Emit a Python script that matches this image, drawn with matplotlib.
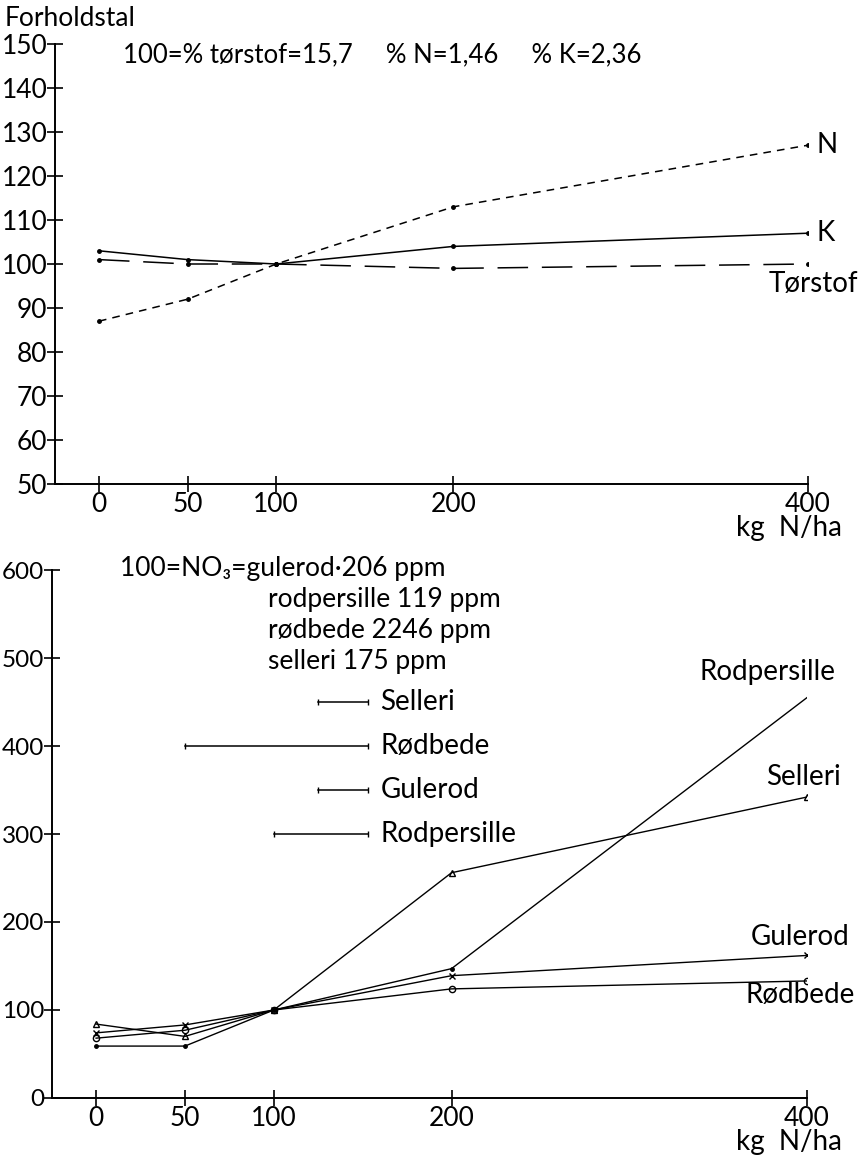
import numpy as np
import matplotlib.pyplot as plt

# fonts: humanist sans, fall back to DejaVu for odd glyphs (subscript 3)
plt.rcParams['font.family'] = ['Lato', 'DejaVu Sans']

################################################################
# DATA
################################################################

kg_n = [0, 50, 100, 200, 400]

# Top panel: ratio numbers (100 = mean level)
torstof = [101, 100, 100, 99, 100]
pct_k = [103, 101, 100, 104, 107]
pct_n = [87, 92, 100, 113, 127]

# Bottom panel: NO3 ratio numbers
selleri = [84, 70, 100, 256, 342]
rodbede = [68, 77, 100, 124, 133]
gulerod = [74, 83, 100, 139, 162]
rodpersille = [59, 59, 100, 147, 455]

top_yticks = list(range(50, 151, 10))
bot_yticks = [0, 100, 200, 300, 400, 500, 600]

W, H = 860, 1163
fs_tick = 19
fs_text = 19
fs_lab = 20

################################################################
# FIGURE
################################################################

fig = plt.figure(figsize=(W / 100, H / 100), dpi=100)


def style_axis(ax):
    for s in ['top', 'right']:
        ax.spines[s].set_visible(False)
    for s in ['left', 'bottom']:
        ax.spines[s].set_linewidth(1.4)
    ax.set_xticks(kg_n)
    ax.set_xticklabels([str(v) for v in kg_n])
    ax.tick_params(direction='inout', length=11, width=1.2, labelsize=fs_tick, pad=0)
    ax.set_xlim(-24.8, 400)


################ top panel ################
ax1 = fig.add_axes([55 / W, 1 - 484 / H, (808 - 55) / W, 440 / H])
style_axis(ax1)
ax1.set_ylim(50, 150)
ax1.set_yticks(top_yticks)

ax1.plot(kg_n, pct_n, color='black', lw=1.1, ls=(0, (5, 4)), marker='o', ms=2.5)
ax1.plot(kg_n, pct_k, color='black', lw=1.1, marker='o', ms=2.5)
ax1.plot(kg_n, torstof, color='black', lw=1.1, ls=(0, (20, 9)), marker='o', ms=2.5)

ax1.text(405, pct_n[-1], 'N', fontsize=fs_lab, va='center', ha='left')
ax1.text(405, pct_k[-1], 'K', fontsize=fs_lab, va='center', ha='left')
ax1.text(403, 95.5, 'Tørstof', fontsize=fs_lab, va='center', ha='center')

fig.text(5 / W, 1 - 18 / H, 'Forholdstal', fontsize=19, va='center', ha='left')
fig.text(123 / W, 1 - 55 / H, '100=% tørstof=15,7     % N=1,46     % K=2,36',
         fontsize=18.5, va='center', ha='left')
fig.text(789 / W, 1 - 528 / H, 'kg  N/ha', fontsize=fs_lab, va='center', ha='center')

################ bottom panel ################
ax2 = fig.add_axes([52 / W, 1 - 1098 / H, (807 - 52) / W, (1098 - 570) / H])
style_axis(ax2)
ax2.set_ylim(0, 600)
ax2.set_yticks(bot_yticks)
ax2.tick_params(axis='y', labelsize=17.5)

ax2.plot(kg_n, selleri, color='black', lw=1.0, marker='^', ms=5, mfc='none', mew=1.0)
ax2.plot(kg_n, rodbede, color='black', lw=1.0, marker='o', ms=4.5, mfc='none', mew=1.0)
ax2.plot(kg_n, gulerod, color='black', lw=1.0, marker='x', ms=4, mew=1.0)
ax2.plot(kg_n, rodpersille, color='black', lw=1.0, marker='o', ms=2.5, markevery=[0, 1, 2, 3])

# end labels
ax2.text(378, 484, 'Rodpersille', fontsize=fs_lab, va='center', ha='center')
ax2.text(398, 365, 'Selleri', fontsize=fs_lab, va='center', ha='center')
ax2.text(396, 183, 'Gulerod', fontsize=fs_lab, va='center', ha='center')
ax2.text(396, 117, 'Rødbede', fontsize=fs_lab, va='center', ha='center')

# key: solid segments with end ticks
key_names = ['Selleri', 'Rødbede', 'Gulerod', 'Rodpersille']
key_y = [450, 400, 350, 300]
key_x0 = [125, 50, 125, 100]
for name, y, x0 in zip(key_names, key_y, key_x0):
    ax2.plot([x0, 153], [y, y], color='black', lw=1.1, marker='|', ms=4, mew=1.0)
    ax2.text(160, y, name, fontsize=fs_lab, va='center', ha='left')

# NO3 reference levels
fig.text(120 / W, 1 - 568 / H, '100=NO₃=gulerod·206 ppm', fontsize=fs_text, va='center', ha='left')
fig.text(268 / W, 1 - 600 / H, 'rodpersille 119 ppm', fontsize=fs_text, va='center', ha='left')
fig.text(268 / W, 1 - 630 / H, 'rødbede 2246 ppm', fontsize=fs_text, va='center', ha='left')
fig.text(268 / W, 1 - 661 / H, 'selleri 175 ppm', fontsize=fs_text, va='center', ha='left')
fig.text(789 / W, 1 - 1142 / H, 'kg  N/ha', fontsize=fs_lab, va='center', ha='center')

fig.savefig('out.png', dpi=100)
